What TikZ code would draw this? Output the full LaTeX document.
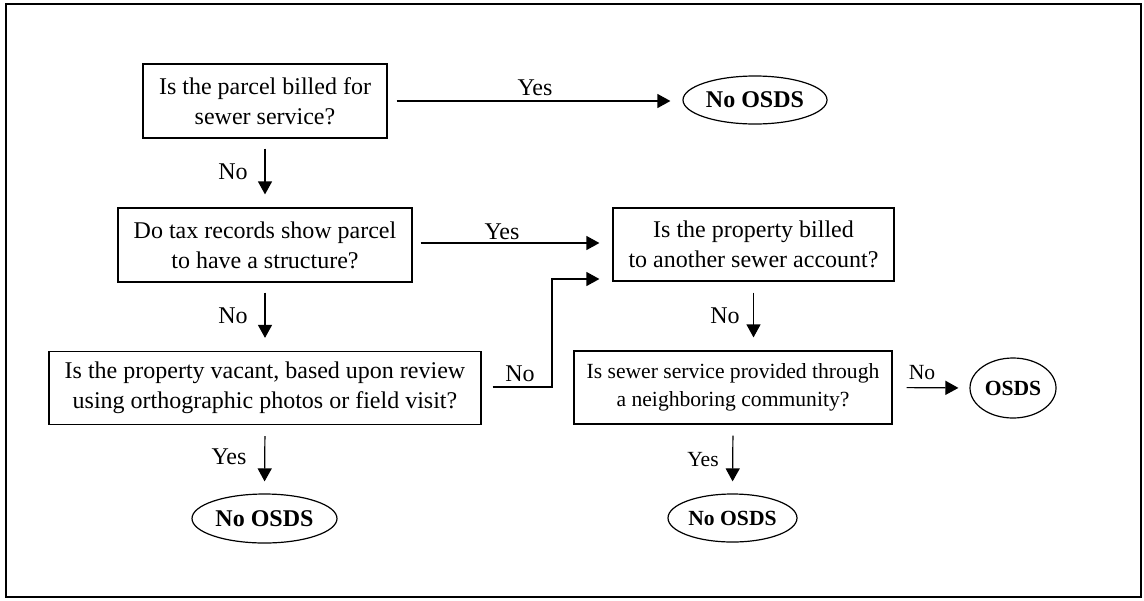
\documentclass[tikz,border=0pt]{standalone}
\usepackage{fontspec}
\setmainfont{Liberation Serif}
\usetikzlibrary{shapes.geometric,arrows.meta,calc}
\begin{document}
\begin{tikzpicture}[x=0.5pt,y=-0.5pt,
  font=\fontsize{12}{15}\selectfont,
  small/.style={font=\fontsize{10.8}{14}\selectfont},
  qbox/.style={draw,line width=0.6pt,rectangle,inner sep=0pt,align=center},
  term/.style={draw,line width=0.6pt,ellipse,inner sep=0pt,font=\fontsize{12}{15}\selectfont\bfseries},
  sterm/.style={term,font=\fontsize{10.8}{14}\selectfont\bfseries},
  arr/.style={line width=0.6pt,-{Triangle[length=6.5pt,width=7pt]}},
  lab/.style={inner sep=0pt}]
\useasboundingbox (0,0) rectangle (1144,600);
\draw[line width=1pt] (6,4) rectangle (1141,597);

\node[qbox,minimum width=122pt,minimum height=37pt] (b1) at (265,101) {Is the parcel billed for\\sewer service?};
\node[qbox,minimum width=147pt,minimum height=37pt] (b2) at (265,245) {Do tax records show parcel\\to have a structure?};
\node[qbox,minimum width=216pt,minimum height=36.5pt] (b3) at (265,388) {Is the property vacant, based upon review\\using orthographic photos or field visit?};
\node[qbox,minimum width=140.5pt,minimum height=36.5pt] (b4) at (753.5,244.5) {Is the property billed\\to another sewer account?};
\node[qbox,small,minimum width=159pt,minimum height=36.5pt] (b5) at (733,387.5) {Is sewer service provided through\\a neighboring community?};

\node[term,minimum width=72pt,minimum height=24pt] (e1) at (755,100) {No OSDS};
\node[term,minimum width=72.5pt,minimum height=24.5pt] (e2) at (264.5,518.5) {No OSDS};
\node[sterm,minimum width=64.5pt,minimum height=24pt] (e3) at (732.5,518) {No OSDS};
\node[sterm,minimum width=43pt,minimum height=30pt] (e4) at (1013,388) {OSDS};

% Yes: b1 -> e1
\draw[arr,shorten <=4.5pt,shorten >=6pt] (b1.east) -- (b1.east -| e1.west);
\node[lab] (l1) at (535,88) {Yes};
% No: b1 -> b2
\draw[arr,shorten <=5pt,shorten >=6.5pt] (b1.south) -- (b2.north);
\node[lab] (l2) at (233,172) {No};
% Yes: b2 -> b4
\draw[arr,shorten <=4pt,shorten >=6.5pt] ($(b2.east)+(0,-2)$) -- ($(b4.west)+(0,-1.5)$);
\node[lab] (l3) at (502,232) {Yes};
% No: b2 -> b3
\draw[arr,shorten <=5pt,shorten >=6.5pt] (b2.south) -- (b3.north);
\node[lab] (l4) at (233,316) {No};
% No: b3 -> b4 (elbow)
\coordinate (j) at (552,279);
\draw[arr] ($(b3.east)+(11,-1)$) -| (j) -- ($(b4.west)+(-13,34.5)$);
\node[lab] (l5) at (520,374) {No};
% Yes: b3 -> e2
\draw[arr,shorten <=5.5pt,shorten >=6pt] (b3.south) -- (e2.north);
\node[lab] (l6) at (229,457) {Yes};
% No: b4 -> b5
\draw[arr,shorten <=5.5pt,shorten >=6.5pt] (b4.south) -- (b4.south |- b5.north);
\node[lab] (l7) at (725,316) {No};
% No: b5 -> e4
\draw[arr,shorten <=7pt,shorten >=5.5pt] (b5.east) -- (e4.west);
\node[lab,small] (l8) at (922,373) {No};
% Yes: b5 -> e3
\draw[arr,shorten <=5.5pt,shorten >=6pt] (b5.south) -- (e3.north);
\node[lab,small] (l9) at (703,460) {Yes};
\end{tikzpicture}
\end{document}
